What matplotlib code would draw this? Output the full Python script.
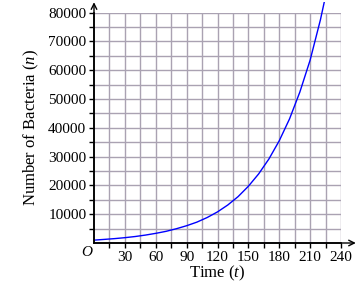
import matplotlib
matplotlib.use("Agg")
import matplotlib.pyplot as plt
from matplotlib.transforms import Bbox, TransformedBbox
import numpy as np

t_values = [0, 10, 20, 30, 40, 50, 60, 70, 80, 90, 100, 110, 120, 130, 140, 150,
            160, 170, 180, 190, 200, 210, 220, 230]
bacteria = [1000, 1250, 1520, 1850, 2250, 2750, 3350, 4050, 4950, 6000, 7250, 8850,
            10800, 13200, 16100, 19700, 24000, 29200, 35500, 43100, 52400, 63500,
            77500, 94000]
x_ticks = [30, 60, 90, 120, 150, 180, 210, 240]
y_ticks = [10000, 20000, 30000, 40000, 50000, 60000, 70000, 80000]

plt.rcParams['font.family'] = ['Liberation Serif', 'DejaVu Serif']
plt.rcParams['mathtext.fontset'] = 'custom'
plt.rcParams['mathtext.rm'] = 'Liberation Serif'
plt.rcParams['mathtext.it'] = 'Liberation Serif:italic'

fig = plt.figure(figsize=(3.58, 2.84), dpi=100)
W, H = 358, 284
x0, x1 = 94, 341
y0, y1 = 243, 12.6
ax = fig.add_axes([x0 / W, 1 - y0 / H, (x1 - x0) / W, (y0 - y1) / H])
ax.set_xlim(0, 240)
ax.set_ylim(0, 80000)

grid_c = '#aaa2b2'
for gx in np.arange(15, 241, 15):
    ax.axvline(gx, color=grid_c, lw=1.0, zorder=1)
for gy in np.arange(5000, 80001, 5000):
    ax.axhline(gy, color=grid_c, lw=1.0, zorder=1)

line, = ax.plot(t_values, bacteria, color='#0000ff', lw=1.0, zorder=3)
line.set_clip_box(TransformedBbox(Bbox([[0, 0], [1, 1.045]]), ax.transAxes))

for s in ['top', 'right']:
    ax.spines[s].set_visible(False)
for s in ['left', 'bottom']:
    ax.spines[s].set_color('black')
    ax.spines[s].set_linewidth(1.2)
    ax.spines[s].set_zorder(4)

ax.set_xticks(x_ticks)
ax.set_xticklabels([str(v) for v in x_ticks], fontsize=11)
ax.set_xticks(np.arange(15, 241, 15), minor=True)
ax.set_yticks(y_ticks)
ax.set_yticklabels([str(v) for v in y_ticks], fontsize=11)
ax.set_yticks(np.arange(5000, 80001, 5000), minor=True)
ax.tick_params(axis='both', which='both', direction='out', length=3.5, width=1, color='black', pad=2)

# origin label
ax.text(-0.03, -0.04, 'O', transform=ax.transAxes, fontsize=11, style='italic',
        ha='center', va='center')

# axis arrows
ax.annotate('', xy=(1.06, 0), xytext=(0, 0), xycoords='axes fraction',
            arrowprops=dict(arrowstyle='->', color='black', lw=1.0, shrinkA=0, shrinkB=0),
            annotation_clip=False)
ax.annotate('', xy=(0, 1.045), xytext=(0, 0), xycoords='axes fraction',
            arrowprops=dict(arrowstyle='->', color='black', lw=1.0, shrinkA=0, shrinkB=0),
            annotation_clip=False)

ax.set_xlabel('Time ($t$)', fontsize=12, labelpad=0)
ax.set_ylabel('Number of Bacteria ($n$)', fontsize=12, labelpad=5)

fig.savefig('out.png', dpi=100)
